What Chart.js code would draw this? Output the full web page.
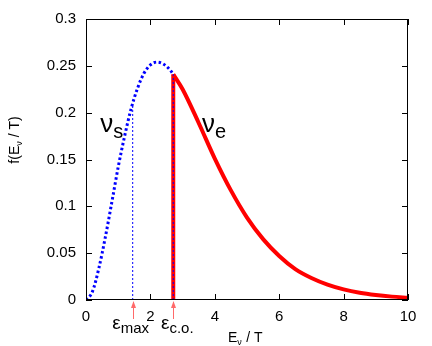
<!DOCTYPE html>
<html>
<head>
<meta charset="utf-8">
<script src="https://cdn.jsdelivr.net/npm/chart.js@4.4.1/dist/chart.umd.min.js"></script>
<style>
  html, body { margin: 0; padding: 0; background: #fff; }
</style>
</head>
<body>
<canvas id="chart" width="432" height="346"></canvas>
<script>
// sterile (nu_s) part of the spectrum, below the cut-off
const sterileX = [0, 0.2, 0.4, 0.6, 0.8, 1.0, 1.2, 1.4, 1.6, 1.8, 2.0, 2.2, 2.4, 2.6, 2.71];
const sterileY = [0, 0.009, 0.034, 0.067, 0.104, 0.142, 0.175, 0.204, 0.226, 0.242, 0.251, 0.254, 0.252, 0.246, 0.241];
// active (nu_e) part, above the cut-off
const activeX = [2.71, 3.0, 3.5, 4.0, 4.5, 5.0, 5.5, 6.0, 6.5, 7.0, 7.5, 8.0, 8.5, 9.0, 9.5, 10];
const activeY = [0.241, 0.225, 0.189, 0.151, 0.117, 0.088, 0.065, 0.047, 0.033, 0.0235, 0.0164, 0.0113, 0.0077, 0.0053, 0.0036, 0.0024];
// marked energies
const eMax = 1.45;
const eMaxY = 0.208;
const eCut = 2.71;
const eCutY = 0.241;
const xTicks = [0, 2, 4, 6, 8, 10];
const yTicks = [0, 0.05, 0.1, 0.15, 0.2, 0.25, 0.3];

const pts = (xs, ys) => xs.map((x, i) => ({ x: x, y: ys[i] }));

const FONT = '"Liberation Sans", Arial, Helvetica, sans-serif';

function subText(ctx, main, sub, x, y, mainSize, subSize, drop, align) {
    ctx.font = mainSize + 'px ' + FONT;
    const w1 = ctx.measureText(main).width;
    ctx.font = subSize + 'px ' + FONT;
    const w2 = ctx.measureText(sub).width;
    let x0 = x;
    if (align === 'center') x0 = x - (w1 + w2) / 2;
    ctx.textAlign = 'left';
    ctx.textBaseline = 'alphabetic';
    ctx.font = mainSize + 'px ' + FONT;
    ctx.fillText(main, x0, y);
    ctx.font = subSize + 'px ' + FONT;
    ctx.fillText(sub, x0 + w1, y + drop);
}

const decor = {
    id: 'decor',
    afterDatasetsDraw(chart) {
        const ctx = chart.ctx;
        const a = chart.chartArea;
        const xs = chart.scales.x, ys = chart.scales.y;
        ctx.save();
        // frame
        ctx.strokeStyle = '#000';
        ctx.lineWidth = 1;
        ctx.strokeRect(Math.round(a.left) + 0.5, Math.round(a.top) + 0.5,
            Math.round(a.right - a.left) - 1, Math.round(a.bottom - a.top) - 1);
        // inward ticks, mirrored
        ctx.beginPath();
        xTicks.forEach(v => {
            const px = Math.round(xs.getPixelForValue(v)) + 0.5;
            ctx.moveTo(px, a.bottom); ctx.lineTo(px, a.bottom - 6);
            ctx.moveTo(px, a.top); ctx.lineTo(px, a.top + 6);
        });
        yTicks.forEach(v => {
            const py = Math.round(ys.getPixelForValue(v)) + 0.5;
            ctx.moveTo(a.left, py); ctx.lineTo(a.left + 6, py);
            ctx.moveTo(a.right, py); ctx.lineTo(a.right - 6, py);
        });
        ctx.stroke();
        // arrows under the axis
        ctx.strokeStyle = '#ff6a6a';
        ctx.fillStyle = '#ff6a6a';
        [eMax, eCut].forEach(v => {
            const px = Math.round(xs.getPixelForValue(v)) + 0.5;
            ctx.beginPath();
            ctx.moveTo(px, a.bottom + 19);
            ctx.lineTo(px, a.bottom + 2);
            ctx.stroke();
            ctx.beginPath();
            ctx.moveTo(px, a.bottom + 1);
            ctx.lineTo(px - 2.5, a.bottom + 8);
            ctx.lineTo(px + 2.5, a.bottom + 8);
            ctx.closePath();
            ctx.fill();
        });
        // labels
        ctx.fillStyle = '#000';
        subText(ctx, 'ν', 's', xs.getPixelForValue(0.44), 132, 26, 20, 6, 'left');
        subText(ctx, 'ν', 'e', xs.getPixelForValue(3.6), 132, 26, 20, 6, 'left');
        subText(ctx, 'ε', 'max', xs.getPixelForValue(eMax) - 2, a.bottom + 29, 19, 15, 4, 'center');
        subText(ctx, 'ε', 'c.o.', xs.getPixelForValue(eCut) + 4, a.bottom + 29, 19, 15, 4, 'center');
        // axis titles
        subText(ctx, 'E', 'ν', 228, 342, 14, 9, 3, 'left');
        ctx.font = '14px ' + FONT;
        ctx.fillText(' / T', 228 + 9.3 + 5, 342);
        ctx.save();
        ctx.translate(19, 140);
        ctx.rotate(-Math.PI / 2);
        ctx.font = '14px ' + FONT;
        const parts = ['f(E', 'ν', ' / T)'];
        const wA = ctx.measureText(parts[0]).width;
        const wC = ctx.measureText(parts[2]).width;
        ctx.font = '9px ' + FONT;
        const wB = ctx.measureText(parts[1]).width;
        let x0 = -(wA + wB + wC) / 2;
        ctx.textAlign = 'left';
        ctx.font = '14px ' + FONT;
        ctx.fillText(parts[0], x0, 0);
        ctx.font = '9px ' + FONT;
        ctx.fillText(parts[1], x0 + wA, 3);
        ctx.font = '14px ' + FONT;
        ctx.fillText(parts[2], x0 + wA + wB, 0);
        ctx.restore();
        ctx.restore();
    }
};

new Chart(document.getElementById('chart'), {
    type: 'scatter',
    data: {
        datasets: [
            {
                data: pts(activeX, activeY),
                order: 4,
                showLine: true,
                borderColor: '#ff0000',
                borderWidth: 4,
                pointRadius: 0,
                cubicInterpolationMode: 'monotone',
            },
            {
                data: [{ x: eCut, y: 0 }, { x: eCut, y: eCutY }],
                order: 3,
                showLine: true,
                borderColor: '#ff0000',
                borderWidth: 4,
                pointRadius: 0,
            },
            {
                data: pts(sterileX, sterileY),
                order: 1,
                showLine: true,
                borderColor: '#0000ff',
                borderWidth: 3,
                borderDash: [2.5, 2.5],
                pointRadius: 0,
                cubicInterpolationMode: 'monotone',
            },
            {
                data: [{ x: eMax, y: 0 }, { x: eMax, y: eMaxY }],
                order: 2,
                showLine: true,
                borderColor: '#0000ff',
                borderWidth: 1,
                borderDash: [2, 2],
                pointRadius: 0,
            },
            {
                data: [{ x: eCut, y: 0 }, { x: eCut, y: eCutY }],
                order: 0,
                showLine: true,
                borderColor: '#0000ff',
                borderWidth: 1,
                borderDash: [2, 2],
                pointRadius: 0,
            },
        ],
    },
    options: {
        responsive: false,
        animation: false,
        devicePixelRatio: 1,
        layout: { padding: { left: 0, right: 24, top: 18, bottom: 0 } },
        plugins: {
            legend: { display: false },
            tooltip: { enabled: false },
        },
        scales: {
            x: {
                type: 'linear',
                min: 0,
                max: 10,
                afterFit: s => { s.height = 46; },
                afterBuildTicks: s => { s.ticks = xTicks.map(v => ({ value: v })); },
                ticks: {
                    color: '#000', font: { size: 15, family: FONT }, padding: 8, maxRotation: 0,
                    callback: v => String(v),
                },
                grid: { display: false, drawTicks: false },
                border: { display: false },
            },
            y: {
                type: 'linear',
                min: 0,
                max: 0.3,
                afterFit: s => { s.width = 86; },
                afterBuildTicks: s => { s.ticks = yTicks.map(v => ({ value: v })); },
                ticks: {
                    color: '#000', font: { size: 15, family: FONT }, padding: 10,
                    callback: v => String(+v.toFixed(2)),
                },
                grid: { display: false, drawTicks: false },
                border: { display: false },
            },
        },
    },
    plugins: [decor],
});
</script>
</body>
</html>
